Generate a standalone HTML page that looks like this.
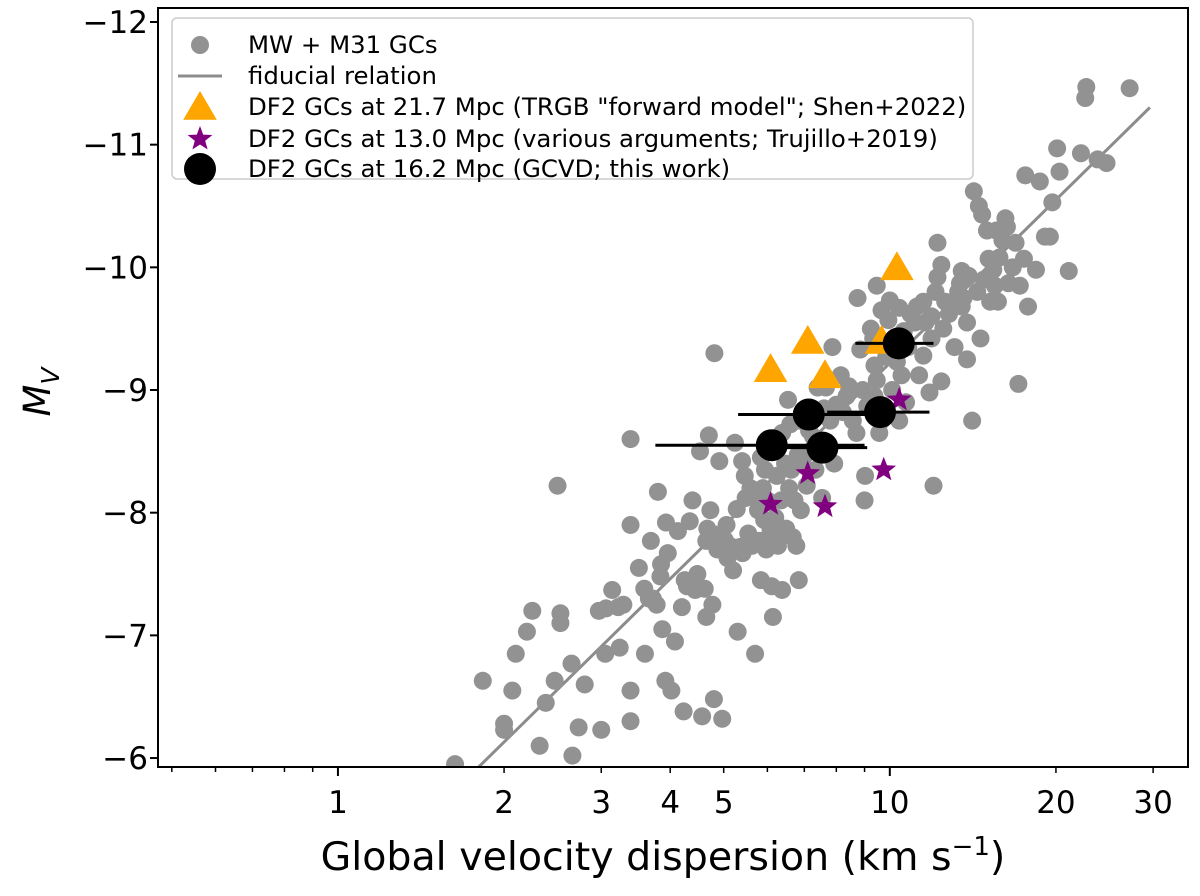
<!DOCTYPE html>
<html><head><meta charset="utf-8"><style>
html,body{margin:0;padding:0;background:#fff;}
svg{display:block;font-family:"DejaVu Sans","Liberation Sans",sans-serif;}
</style></head><body>
<svg id="chart" width="1200" height="896" viewBox="0 0 1200 896" xmlns="http://www.w3.org/2000/svg">
<g id="gridlayer"></g>
</svg>
<script>
const gcSigma=[1.63,1.83,2.0,2.0,2.07,2.1,2.2,2.25,2.32,2.38,2.47,2.5,2.53,2.53,2.65,2.66,2.73,2.8,2.97,3.0,3.05,3.06,3.14,3.22,3.24,3.29,3.39,3.39,3.39,3.39,3.51,3.6,3.59,3.66,3.69,3.72,3.78,3.8,3.84,3.85,3.87,3.92,3.93,3.96,4.02,4.08,4.13,4.2,4.23,4.25,4.29,4.34,4.39,4.44,4.48,4.53,4.57,4.62,4.65,4.65,4.67,4.7,4.73,4.77,4.8,4.81,4.85,4.87,4.91,4.97,5.02,5.06,5.08,5.13,5.2,5.24,5.28,5.3,5.35,5.4,5.41,5.46,5.48,5.54,5.59,5.63,5.7,5.73,5.77,5.79,5.84,5.84,5.89,5.92,5.94,5.97,6.0,6.0,6.04,6.08,6.11,6.14,6.18,6.2,6.24,6.27,6.32,6.35,6.38,6.38,6.46,6.49,6.54,6.57,6.6,6.63,6.67,6.72,6.77,6.81,6.84,6.86,6.9,6.93,7.02,7.07,7.14,7.19,7.26,7.33,7.4,7.47,7.54,7.6,7.66,7.73,7.8,7.87,7.93,8.0,8.15,8.22,8.35,8.43,8.57,8.7,8.74,8.84,8.93,9.0,9.02,9.1,9.24,9.33,9.38,9.38,9.47,9.47,9.57,9.66,9.66,9.75,9.85,9.94,10.0,10.1,10.2,10.3,10.4,10.4,10.5,10.6,10.7,10.8,10.9,11.1,11.2,11.3,11.5,11.5,11.6,11.8,11.9,11.9,12.0,12.1,12.2,12.2,12.4,12.4,12.5,12.6,12.8,13.1,13.3,13.4,13.5,13.5,13.6,13.8,13.8,13.9,14.1,14.2,14.4,14.5,14.6,14.7,14.8,15.0,15.1,15.2,15.4,15.5,15.6,15.7,15.8,16.0,16.2,16.3,16.4,16.7,16.9,17.1,17.2,17.5,17.6,17.8,18.4,18.7,19.1,19.5,19.7,20.1,20.3,21.1,22.2,22.6,22.7,23.8,24.7,27.2];
const gcMV=[-5.95,-6.63,-6.23,-6.28,-6.55,-6.85,-7.03,-7.2,-6.1,-6.45,-6.63,-8.22,-7.18,-7.1,-6.77,-6.02,-6.25,-6.6,-7.2,-6.23,-6.85,-7.22,-7.37,-7.23,-6.9,-7.25,-6.3,-6.55,-8.6,-7.9,-7.55,-6.85,-7.38,-7.3,-7.77,-7.3,-7.25,-8.17,-7.48,-7.58,-7.05,-6.63,-7.92,-7.67,-6.55,-6.95,-7.85,-7.23,-6.38,-7.45,-7.4,-7.93,-8.1,-7.37,-7.5,-8.5,-6.34,-7.38,-7.15,-7.77,-7.87,-8.63,-8.02,-7.25,-6.48,-9.3,-7.82,-7.7,-8.42,-6.32,-7.78,-7.9,-7.63,-7.73,-7.53,-8.57,-8.03,-7.03,-7.72,-8.42,-7.67,-8.3,-8.12,-7.83,-8.2,-7.73,-6.85,-8.12,-8.02,-7.77,-7.45,-8.45,-8.2,-7.94,-8.35,-7.7,-7.79,-8.1,-8.55,-7.87,-7.4,-7.15,-8.57,-7.96,-8.3,-7.73,-7.8,-8.1,-8.65,-7.37,-8.4,-7.87,-8.92,-8.2,-8.72,-8.35,-7.8,-8.1,-7.73,-8.47,-7.45,-8.75,-8.02,-8.4,-8.47,-8.22,-8.67,-8.85,-8.62,-8.35,-9.02,-8.57,-8.12,-8.85,-9.02,-8.5,-8.75,-9.35,-8.4,-8.88,-9.12,-8.82,-8.95,-9.03,-8.75,-8.65,-9.75,-9.33,-9.0,-8.1,-8.3,-8.87,-9.5,-9.42,-8.95,-9.2,-9.08,-9.85,-8.65,-9.65,-8.75,-9.37,-9.27,-9.57,-9.73,-9.0,-9.4,-9.23,-9.67,-8.75,-9.12,-9.48,-8.9,-9.35,-9.62,-9.55,-9.68,-9.12,-9.72,-9.28,-9.55,-8.98,-9.42,-9.6,-8.22,-9.8,-10.2,-9.92,-9.07,-10.02,-9.5,-9.72,-9.62,-9.35,-9.8,-9.87,-9.68,-9.97,-9.75,-9.55,-9.25,-9.93,-8.75,-10.62,-9.8,-10.5,-9.42,-10.43,-9.9,-10.3,-10.07,-9.72,-9.98,-9.85,-10.3,-9.72,-10.08,-10.22,-10.4,-10.33,-9.87,-10.0,-10.2,-9.05,-9.85,-10.07,-10.75,-9.68,-9.98,-10.7,-10.25,-10.25,-10.53,-10.97,-10.78,-9.97,-10.93,-11.38,-11.47,-10.88,-10.85,-11.46];
const triSigma=[10.3,9.66,7.1,6.08,7.63];
const triMV=[-10.0,-9.4,-9.4,-9.17,-9.12];
const starSigma=[6.08,7.1,7.63,9.75,10.4];
const starMV=[-8.07,-8.32,-8.05,-8.35,-8.92];
const dfSigma=[10.38,7.13,9.6,6.11,7.55];
const dfMV=[-9.38,-8.8,-8.82,-8.55,-8.53];
const dfSigmaLo=[8.66,5.31,7.7,3.76,6.0];
const dfSigmaHi=[12.0,9.06,11.8,9.0,9.1];
const fidRange=[1.79,29.6];
const fidCoef=[-4.80,-4.42];
const xTickVals=[1,2,3,4,5,10,20,30];
const xTickLabels=["1","2","3","4","5","10","20","30"];
const xMinorVals=[0.5,0.6,0.7,0.8,0.9,6,7,8,9];
const yTickVals=[-12,-11,-10,-9,-8,-7,-6];
const yTickLabels=["\u221212","\u221211","\u221210","\u22129","\u22128","\u22127","\u22126"];

const L=158,R=1188,T=8,B=767;
const xMin=Math.log10(0.472),xMax=Math.log10(34.7),yTop=-12.114,yBot=-5.927;
function X(v){return L+(Math.log10(v)-xMin)/(xMax-xMin)*(R-L);}
function Y(v){return T+(v-yTop)/(yBot-yTop)*(B-T);}
const NS="http://www.w3.org/2000/svg";
const svg=document.getElementById('chart');
function mk(tag,attrs,parent){const e=document.createElementNS(NS,tag);for(const k in attrs)e.setAttribute(k,attrs[k]);(parent||svg).appendChild(e);return e;}

const clip=mk('clipPath',{id:'cp'});mk('rect',{x:L,y:T,width:R-L,height:B-T},clip);
const plot=mk('g',{'clip-path':'url(#cp)'});



const fl=mk('line',{x1:X(fidRange[0]),y1:Y(fidCoef[0]+fidCoef[1]*Math.log10(fidRange[0])),x2:X(fidRange[1]),y2:Y(fidCoef[0]+fidCoef[1]*Math.log10(fidRange[1])),stroke:'#8c8c8c','stroke-width':3},plot);



for(let i=0;i<gcSigma.length;i++){
  const c=mk('circle',{cx:X(gcSigma[i]),cy:Y(gcMV[i]),r:9,fill:'#929292'},plot);
  
  
}
function tri(cx,cy,s){return `${cx},${cy-s} ${cx+s*1.05},${cy+s*0.8} ${cx-s*1.05},${cy+s*0.8}`;}
for(let i=0;i<triSigma.length;i++){
  const p=mk('polygon',{points:tri(X(triSigma[i]),Y(triMV[i]),16),fill:'#ffa500'},plot);
  
  
}
function star(cx,cy,r){let pts=[];for(let k=0;k<10;k++){const a=-Math.PI/2+k*Math.PI/5;const rr=k%2?r*0.42:r;pts.push((cx+rr*Math.cos(a)).toFixed(1)+','+(cy+rr*Math.sin(a)).toFixed(1));}return pts.join(' ');}
for(let i=0;i<starSigma.length;i++){
  const p=mk('polygon',{points:star(X(starSigma[i]),Y(starMV[i]),13),fill:'#800080'},plot);
  
  
}
for(let i=0;i<dfSigma.length;i++){
  const e=mk('line',{x1:X(dfSigmaLo[i]),x2:X(dfSigmaHi[i]),y1:Y(dfMV[i]),y2:Y(dfMV[i]),stroke:'#000','stroke-width':3},plot);
  
  
}
for(let i=0;i<dfSigma.length;i++){
  const c=mk('circle',{cx:X(dfSigma[i]),cy:Y(dfMV[i]),r:16,fill:'#000'},plot);
  
  
}

const fr=mk('rect',{x:L,y:T,width:R-L,height:B-T,fill:'none',stroke:'#000','stroke-width':2});



for(let i=0;i<xTickVals.length;i++){
  const x=X(xTickVals[i]);
  const major=(xTickVals[i]===1||xTickVals[i]===10);
  const t=mk('line',{x1:x,x2:x,y1:B,y2:B+(major?9:6),stroke:'#000','stroke-width':major?2:1.5});
  
  
  const tx=mk('text',{x:x,y:B+46,'font-size':31,'text-anchor':'middle',fill:'#000'});
  tx.textContent=xTickLabels[i];
  
  
}
for(let i=0;i<xMinorVals.length;i++){
  const x=X(xMinorVals[i]);
  const t=mk('line',{x1:x,x2:x,y1:B,y2:B+5,stroke:'#000','stroke-width':1.5});
  
  
}
for(let i=0;i<yTickVals.length;i++){
  const y=Y(yTickVals[i]);
  const t=mk('line',{x1:L-8,x2:L,y1:y,y2:y,stroke:'#000','stroke-width':2});
  
  
  const tx=mk('text',{x:L-10,y:y+11,'font-size':31,'text-anchor':'end',fill:'#000'});
  tx.textContent=yTickLabels[i];
  
  
}
const xl=mk('text',{x:663,y:870,'font-size':39.5,'text-anchor':'middle',fill:'#000'});
xl.innerHTML='Global velocity dispersion (km s<tspan dy="-15" font-size="26">\u22121</tspan><tspan dy="15">)</tspan>';


const yl=mk('text',{transform:'translate(50,392) rotate(-90)','font-size':37,'text-anchor':'middle',fill:'#000','font-style':'italic'});
yl.innerHTML='M<tspan dy="9" font-size="25">V</tspan>';



const lg=mk('g',{});


mk('rect',{x:172,y:18,width:801,height:161,rx:5,fill:'#fff','fill-opacity':0.85,stroke:'#cccccc','stroke-width':1.5},lg);
const entries=['MW + M31 GCs','fiducial relation','DF2 GCs at 21.7 Mpc (TRGB "forward model"; Shen+2022)','DF2 GCs at 13.0 Mpc (various arguments; Trujillo+2019)','DF2 GCs at 16.2 Mpc (GCVD; this work)'];
const ly=[45,76,107,139,169];
mk('circle',{cx:200,cy:ly[0],r:9,fill:'#929292'},lg);
mk('line',{x1:178,x2:222,y1:ly[1],y2:ly[1],stroke:'#8c8c8c','stroke-width':3},lg);
mk('polygon',{points:tri(200,ly[2],16),fill:'#ffa500'},lg);
mk('polygon',{points:star(200,ly[3],13),fill:'#800080'},lg);
mk('circle',{cx:200,cy:ly[4],r:16,fill:'#000'},lg);
for(let i=0;i<entries.length;i++){
  const t=mk('text',{x:248,y:ly[i]+8,'font-size':24.4,fill:'#000'},lg);
  t.textContent=entries[i];
  
  
}
</script>
</body></html>
